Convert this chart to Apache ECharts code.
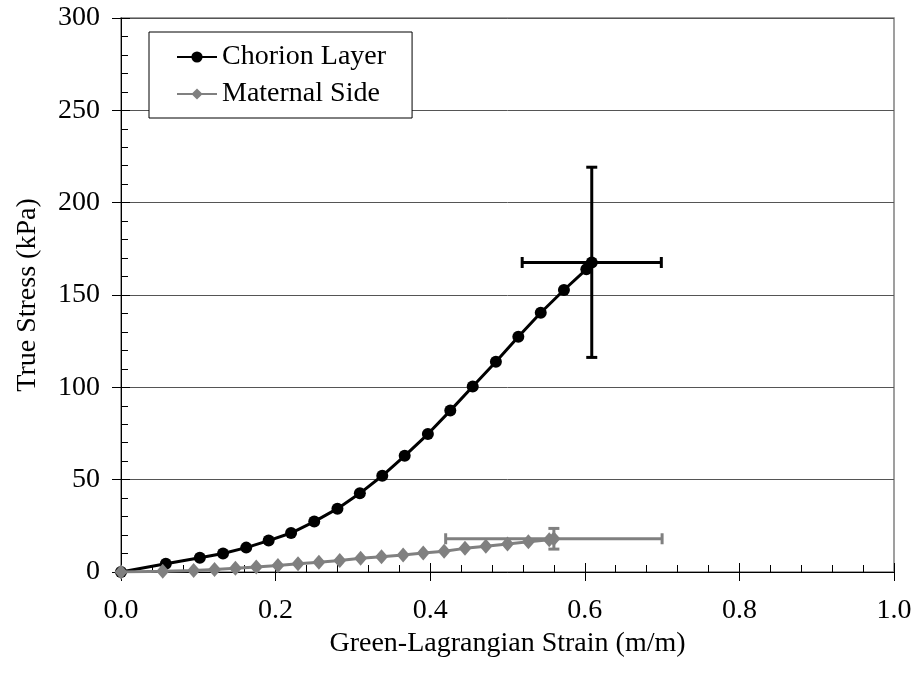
<!DOCTYPE html>
<html>
<head>
<meta charset="utf-8">
<script src="https://cdn.jsdelivr.net/npm/echarts@6/dist/echarts.min.js"></script>
<style>html,body{margin:0;padding:0;background:#fff}#c{width:915px;height:685px}</style>
</head>
<body>
<div id="c"></div>
<script>
// ---- data ----
const seriesNames = ['Chorion Layer', 'Maternal Side'];
const chorionX = [0, 0.058, 0.102, 0.132, 0.162, 0.191, 0.220, 0.250, 0.280, 0.309, 0.338, 0.367, 0.397, 0.426, 0.455, 0.485, 0.514, 0.543, 0.573, 0.602, 0.609];
const chorionY = [0, 4.5, 7.7, 10.0, 13.2, 17.0, 21.1, 27.3, 34.3, 42.6, 52.1, 62.9, 74.7, 87.4, 100.4, 113.9, 127.4, 140.4, 152.7, 163.9, 167.6];
const maternalX = [0, 0.054, 0.094, 0.121, 0.148, 0.175, 0.203, 0.229, 0.256, 0.283, 0.310, 0.337, 0.365, 0.391, 0.418, 0.445, 0.472, 0.500, 0.527, 0.554, 0.560];
const maternalY = [0, 0.4, 0.8, 1.3, 2.0, 2.7, 3.5, 4.5, 5.3, 6.2, 7.4, 8.3, 9.2, 10.3, 11.2, 12.8, 13.9, 15.2, 16.4, 17.4, 18.0];
// error bars: [centerX, centerY, xLow, xHigh, yLow, yHigh]
const chorionErr = [0.609, 167.6, 0.519, 0.699, 116.2, 219.2];
const maternalErr = [0.560, 18.0, 0.420, 0.700, 12.4, 23.6];
const xTicks = [0, 0.2, 0.4, 0.6, 0.8, 1.0];
const yTicks = [0, 50, 100, 150, 200, 250, 300];

const FONT = 'Liberation Serif';
const FS = 28;
const pairs = (xs, ys) => xs.map((x, i) => [x, ys[i]]);

function errSeries(err, color, z) {
  return {
    type: 'custom',
    silent: true,
    z: z,
    data: [err],
    renderItem: function (params, api) {
      const cx = api.value(0), cy = api.value(1);
      const l = api.coord([api.value(2), cy]);
      const r = api.coord([api.value(3), cy]);
      const b = api.coord([cx, api.value(4)]);
      const t = api.coord([cx, api.value(5)]);
      const cap = 5.5;
      const st = { stroke: color, lineWidth: 3 };
      const ln = (x1, y1, x2, y2) => ({ type: 'line', shape: { x1, y1, x2, y2 }, style: st });
      return {
        type: 'group',
        children: [
          ln(l[0], l[1], r[0], r[1]),
          ln(l[0], l[1] - cap, l[0], l[1] + cap),
          ln(r[0], r[1] - cap, r[0], r[1] + cap),
          ln(b[0], b[1], t[0], t[1]),
          ln(b[0] - cap, b[1], b[0] + cap, b[1]),
          ln(t[0] - cap, t[1], t[0] + cap, t[1])
        ]
      };
    }
  };
}

const chart = echarts.init(document.getElementById('c'), null, { renderer: 'canvas' });
const axisLbl = { fontFamily: FONT, fontSize: FS, color: '#000' };
chart.setOption({
  animation: false,
  backgroundColor: '#fff',
  grid: { left: 121, right: 21, top: 18, bottom: 113, show: true, borderColor: '#808080', borderWidth: 1.5, backgroundColor: 'transparent' },
  legend: {
    data: seriesNames,
    orient: 'vertical',
    left: 149,
    top: 32,
    backgroundColor: '#fff',
    borderColor: '#000',
    borderWidth: 1,
    padding: [11, 26, 10, 27],
    itemGap: 9,
    itemWidth: 40,
    itemHeight: 14,
    textStyle: { fontFamily: FONT, fontSize: FS, color: '#000' }
  },
  xAxis: [{
    type: 'value', min: 0, max: 1, interval: 0.2, position: 'bottom', offset: 0,
    name: 'Green-Lagrangian Strain (m/m)', nameLocation: 'middle', nameGap: 55,
    nameTextStyle: { fontFamily: FONT, fontSize: FS, color: '#000' },
    axisLine: { show: true, onZero: false, lineStyle: { color: '#000', width: 1 } },
    axisTick: { show: true, inside: false, length: 9, lineStyle: { color: '#000' } },
    axisLabel: Object.assign({ margin: 25, formatter: v => xTicks.includes(+v.toFixed(1)) ? v.toFixed(1) : '' }, axisLbl),
    splitLine: { show: false }
  }, {
    type: 'value', min: 0, max: 1, interval: 0.2, position: 'bottom', offset: 0,
    axisLine: { show: false, onZero: false },
    axisTick: { show: true, inside: true, length: 9, lineStyle: { color: '#000' } },
    minorTick: { show: true, splitNumber: 5, length: 7, lineStyle: { color: '#000' } },
    axisLabel: { show: false },
    splitLine: { show: false }
  }],
  yAxis: [{
    type: 'value', min: 0, max: 300, interval: 50, position: 'left', offset: 0,
    name: 'True Stress (kPa)', nameLocation: 'middle', nameGap: 79,
    nameTextStyle: { fontFamily: FONT, fontSize: FS, color: '#000' },
    axisLine: { show: true, onZero: false, lineStyle: { color: '#000', width: 1 } },
    axisTick: { show: true, inside: false, length: 9, lineStyle: { color: '#000' } },
    axisLabel: Object.assign({ margin: 21, formatter: v => yTicks.includes(v) ? String(v) : '' }, axisLbl),
    splitLine: { show: true, lineStyle: { color: '#555', width: 1 } }
  }, {
    type: 'value', min: 0, max: 300, interval: 50, position: 'left', offset: 0,
    axisLine: { show: false, onZero: false },
    axisTick: { show: true, inside: true, length: 9, lineStyle: { color: '#000' } },
    minorTick: { show: true, splitNumber: 5, length: 7, lineStyle: { color: '#000' } },
    axisLabel: { show: false },
    splitLine: { show: false }
  }],
  series: [
    {
      name: seriesNames[0], type: 'line', xAxisIndex: 0, yAxisIndex: 0,
      data: pairs(chorionX, chorionY), symbol: 'circle', symbolSize: 12,
      lineStyle: { color: '#000', width: 3 }, itemStyle: { color: '#000' }, z: 2
    },
    errSeries(chorionErr, '#000', 3),
    {
      name: seriesNames[1], type: 'line', xAxisIndex: 0, yAxisIndex: 0,
      data: pairs(maternalX, maternalY), symbol: 'diamond', symbolSize: [13, 15],
      lineStyle: { color: '#808080', width: 3 }, itemStyle: { color: '#808080' }, z: 4
    },
    errSeries(maternalErr, '#808080', 5)
  ]
});
</script>
</body>
</html>
